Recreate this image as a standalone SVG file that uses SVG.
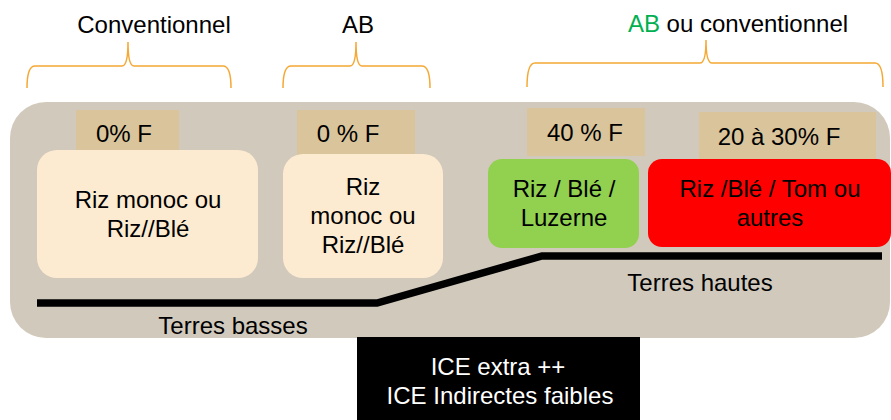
<svg xmlns="http://www.w3.org/2000/svg" width="891" height="420" viewBox="0 0 891 420">
<style>
text{font-family:"Liberation Sans",Arial,sans-serif;font-size:24px;fill:#000;text-anchor:middle}
.brace{fill:none;stroke:#f5a833;stroke-width:1.5}
.tag{fill:#d9c49b}
.cream{fill:#fdebd1}
.ground{fill:none;stroke:#000;stroke-width:7.5;stroke-linejoin:miter}
</style>
<rect x="10" y="102" width="880" height="236" rx="36" fill="#d1c9bc"/>
<g id="braces">
<path class="brace" d="M27,88 Q27,66 35,66 L122,66 Q128,66 128,42 Q128,66 134,66 L223,66 Q231,66 231,88"/>
<path class="brace" d="M283,88 Q283,66 291,66 L350,66 Q356,66 356,42 Q356,66 362,66 L422,66 Q430,66 430,88"/>
<path class="brace" d="M527,87 Q527,63 535,63 L700,63 Q706,63 706,40 Q706,63 712,63 L875,63 Q883,63 883,87"/>
</g>
<g id="labels">
<text x="154" y="33">Conventionnel</text>
<text x="358" y="33">AB</text>
<text x="738" y="32"><tspan fill="#00b050">AB</tspan> ou conventionnel</text>
</g>
<g id="connectors">
<path class="ground" d="M37,303 L377,303 L542,256 L882,256"/>
</g>
<g id="tag1"><rect class="tag" x="76" y="110" width="103" height="42"/><text x="124" y="142">0% F</text></g>
<g id="tag2"><rect class="tag" x="297" y="110" width="118" height="45"/><text x="348" y="142">0 % F</text></g>
<g id="tag3"><rect class="tag" x="527" y="108" width="118" height="48"/><text x="585" y="141">40 % F</text></g>
<g id="tag4"><rect class="tag" x="699" y="112" width="177" height="48"/><text x="779" y="145">20 à 30% F</text></g>
<g id="node1"><rect class="cream" x="37" y="150" width="221" height="128" rx="20"/><text x="148" y="208">Riz monoc ou</text><text x="148" y="237">Riz//Blé</text></g>
<g id="node2"><rect class="cream" x="283" y="154" width="160" height="124" rx="20"/><text x="363" y="195">Riz</text><text x="363" y="224">monoc ou</text><text x="363" y="253">Riz//Blé</text></g>
<g id="node3"><rect x="488" y="159" width="151" height="89" rx="14" fill="#92d050"/><text x="564" y="197">Riz / Blé /</text><text x="564" y="226">Luzerne</text></g>
<g id="node4"><rect x="648" y="159" width="243" height="88" rx="14" fill="#ff0000"/><text x="770" y="197">Riz /Blé / Tom ou</text><text x="770" y="226">autres</text></g>
<g id="ground-labels">
<text x="233" y="334">Terres basses</text>
<text x="700" y="291">Terres hautes</text>
</g>
<g id="ice"><rect x="357" y="337" width="283" height="90" fill="#000"/><text x="498" y="375" style="fill:#fff">ICE extra ++</text><text x="500" y="404" style="fill:#fff">ICE Indirectes faibles</text></g>
</svg>
